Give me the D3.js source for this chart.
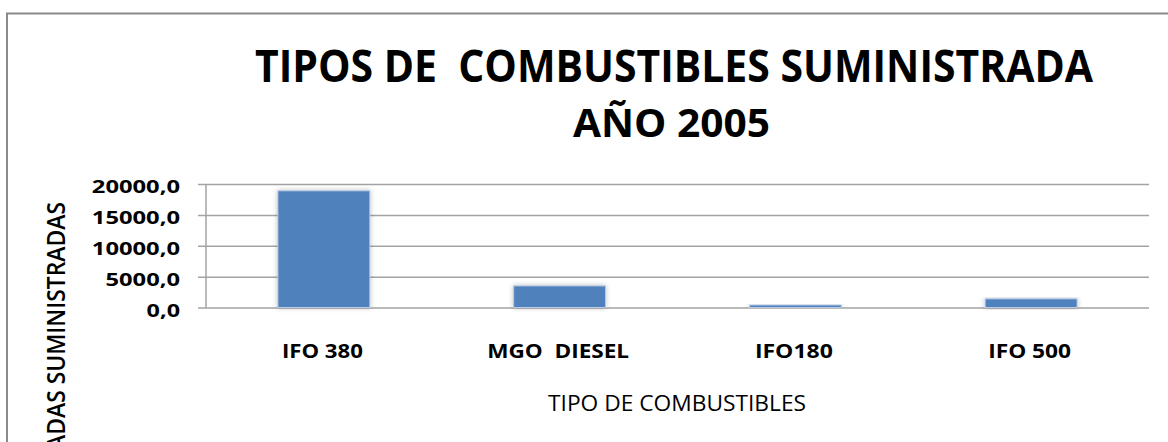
<!DOCTYPE html>
<html>
<head>
<meta charset="utf-8">
<script src="https://cdn.jsdelivr.net/npm/d3@7"></script>
<style>
  html, body { margin: 0; padding: 0; background: #fff; overflow: hidden; }
  svg { display: block; }
  text { white-space: pre; }
</style>
</head>
<body>
<div id="chart"></div>
<script>
// Tipos de combustibles suministrada, año 2005

const categories = ['IFO 380', 'MGO  DIESEL', 'IFO180', 'IFO 500'];
const values = [18900, 3500, 400, 1400];
const yTicks = [0, 5000, 10000, 15000, 20000];
const titleLines = ['TIPOS DE  COMBUSTIBLES SUMINISTRADA', 'AÑO 2005'];
const xTitle = 'TIPO DE COMBUSTIBLES';
const yTitle = 'TONELADAS SUMINISTRADAS';

const W = 1168, H = 442;
const plot = { left: 206, right: 1149, top: 184, bottom: 307.5 };

const fmt = d3.formatLocale({ decimal: ',', thousands: '', grouping: [3], currency: ['', ''] }).format('.1f');

const svg = d3.select('#chart').append('svg')
  .attr('width', W)
  .attr('height', H);

const defs = svg.append('defs');
defs.append('filter')
  .attr('id', 'shadow')
  .attr('x', '-20%').attr('y', '-20%')
  .attr('width', '140%').attr('height', '140%')
  .append('feDropShadow')
  .attr('dx', 0).attr('dy', 0)
  .attr('stdDeviation', 2.5)
  .attr('flood-color', '#000')
  .attr('flood-opacity', 0.25);

// outer chart border (the screenshot crops right and bottom)
svg.append('rect')
  .attr('x', 7).attr('y', 13.5)
  .attr('width', W + 20).attr('height', H + 20)
  .attr('fill', '#fff')
  .attr('stroke', '#8a8a8a')
  .attr('stroke-width', 2);

const x = d3.scaleBand()
  .domain(categories)
  .range([plot.left, plot.right])
  .paddingInner(0.61)
  .paddingOuter(0.305);

const y = d3.scaleLinear()
  .domain([0, 20000])
  .range([plot.bottom, plot.top]);

// gridlines + ticks
const yAxis = svg.append('g')
  .attr('transform', `translate(${plot.left},0)`)
  .call(d3.axisLeft(y)
    .tickValues(yTicks)
    .tickSize(-(plot.right - plot.left))
    .tickFormat(fmt));

yAxis.select('.domain').remove();
yAxis.selectAll('.tick line')
  .attr('x1', -8)
  .attr('stroke', '#a3a3a3')
  .attr('stroke-width', 1.5);
yAxis.selectAll('.tick text')
  .attr('x', -26)
  .attr('dy', 8.5)
  .attr('fill', '#000')
  .style('font-family', '"Open Sans", sans-serif')
  .style('font-weight', 700)
  .style('font-size', '18px')
  .attr('textLength', d => {
    const s = fmt(d);
    return (s.length - 1) * 13.7 + 6;
  })
  .attr('lengthAdjust', 'spacingAndGlyphs');

// vertical axis line
svg.append('line')
  .attr('x1', plot.left).attr('x2', plot.left)
  .attr('y1', plot.top).attr('y2', plot.bottom)
  .attr('stroke', '#a3a3a3')
  .attr('stroke-width', 1.5);

// bars
svg.append('g')
  .selectAll('rect')
  .data(values)
  .join('rect')
  .attr('x', (d, i) => x(categories[i]))
  .attr('y', d => y(d))
  .attr('width', x.bandwidth())
  .attr('height', d => y(0) - y(d))
  .attr('fill', '#4f81bd')
  .attr('stroke', '#b9cbe6')
  .attr('stroke-width', 1)
  .attr('filter', 'url(#shadow)');

// category labels
const catWidths = [81, 142, 78, 83];
svg.append('g')
  .selectAll('text')
  .data(categories)
  .join('text')
  .attr('x', d => x(d) + x.bandwidth() / 2 - 1.5)
  .attr('y', 358)
  .attr('text-anchor', 'middle')
  .attr('textLength', (d, i) => catWidths[i])
  .attr('lengthAdjust', 'spacingAndGlyphs')
  .style('font-family', '"Open Sans", sans-serif')
  .style('font-weight', 700)
  .style('font-size', '19px')
  .text(d => d);

// chart title
svg.append('text')
  .attr('x', 255).attr('y', 82)
  .attr('textLength', 838)
  .attr('lengthAdjust', 'spacingAndGlyphs')
  .style('font-family', '"Open Sans", sans-serif')
  .style('font-weight', 700)
  .style('font-size', '44px')
  .text(titleLines[0]);

svg.append('text')
  .attr('x', 573).attr('y', 137)
  .attr('textLength', 197)
  .attr('lengthAdjust', 'spacingAndGlyphs')
  .style('font-family', '"Open Sans", sans-serif')
  .style('font-weight', 700)
  .style('font-size', '40px')
  .text(titleLines[1]);

// x axis title
svg.append('text')
  .attr('x', 677).attr('y', 411)
  .attr('text-anchor', 'middle')
  .attr('textLength', 258)
  .attr('lengthAdjust', 'spacingAndGlyphs')
  .style('font-family', '"Open Sans", sans-serif')
  .style('font-size', '22px')
  .text(xTitle);

// y axis title (cut off at the bottom like the source)
svg.append('text')
  .attr('transform', 'translate(65,202) rotate(-90)')
  .attr('text-anchor', 'end')
  .attr('textLength', 322)
  .attr('lengthAdjust', 'spacingAndGlyphs')
  .style('font-family', '"Open Sans", sans-serif')
  .style('font-weight', 600)
  .style('font-size', '25px')
  .text(yTitle);
</script>
</body>
</html>
